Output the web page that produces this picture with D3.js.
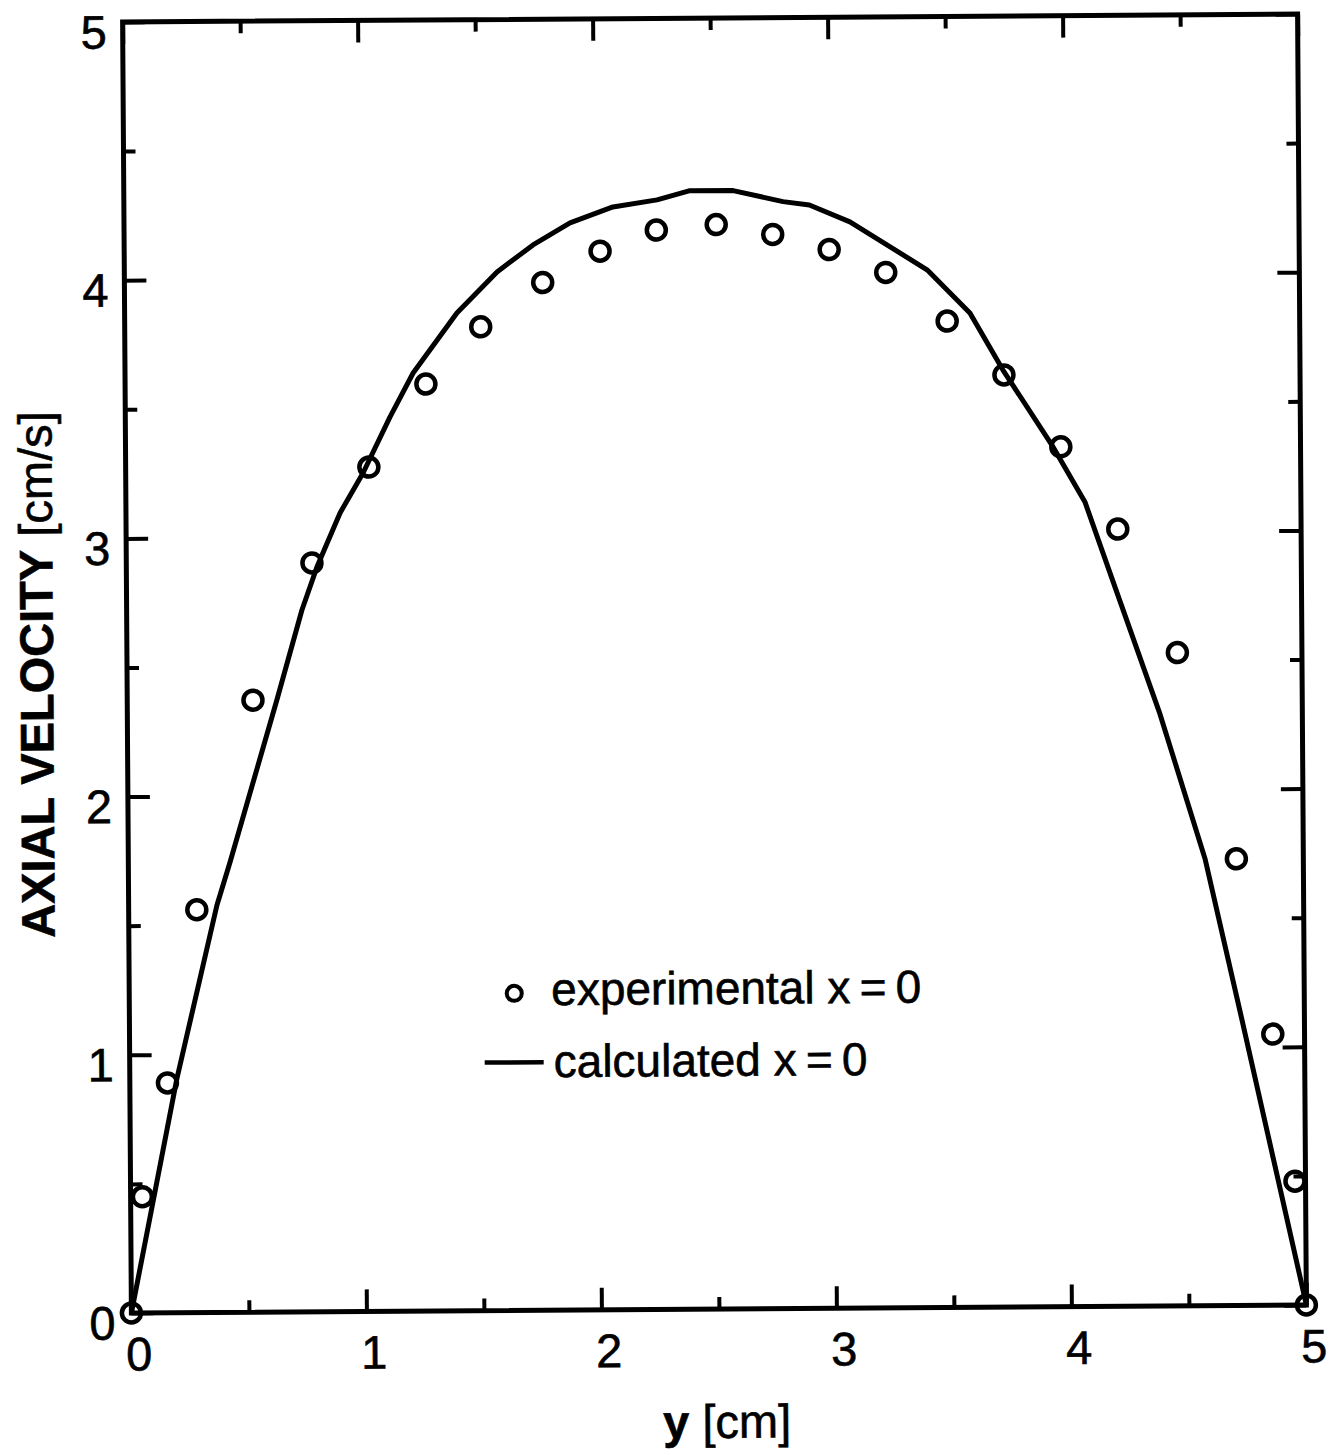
<!DOCTYPE html>
<html>
<head>
<meta charset="utf-8">
<script src="https://cdn.jsdelivr.net/npm/d3@7"></script>
<style>
  body { margin: 0; background: #fff; }
  svg { display: block; }
  text { stroke: #000; stroke-width: 0.6px; }
</style>
</head>
<body>
<div class="content"></div>
<script>
//--> Data
const expY = [0, 0.05, 0.16, 0.29, 0.535, 0.79, 1.035, 1.28, 1.515, 1.78, 2.025, 2.265, 2.52,
  2.76, 3.0, 3.24, 3.5, 3.74, 3.98, 4.22, 4.47, 4.715, 4.865, 4.955, 5.0];
const expU = [0, 0.45, 0.89, 1.56, 2.37, 2.9, 3.27, 3.59, 3.81, 3.98, 4.1, 4.18, 4.2,
  4.16, 4.1, 4.01, 3.82, 3.61, 3.33, 3.01, 2.53, 1.73, 1.05, 0.48, 0];

const calcY = [0, 0.095, 0.2, 0.376, 0.433, 0.637, 0.746, 0.811, 0.911, 1.01, 1.126, 1.226,
  1.414, 1.586, 1.74, 1.898, 2.081, 2.269, 2.409, 2.593, 2.805, 2.917, 3.089, 3.416, 3.597,
  3.736, 3.947, 4.081, 4.215, 4.394, 4.582, 4.726, 5.0];
const calcU = [0, 0.429, 0.905, 1.578, 1.744, 2.371, 2.718, 2.884, 3.093, 3.247, 3.463, 3.633,
  3.864, 4.022, 4.126, 4.21, 4.271, 4.297, 4.332, 4.331, 4.287, 4.273, 4.207, 4.019, 3.851,
  3.629, 3.33, 3.116, 2.763, 2.293, 1.73, 1.14, 0];

const majorTicks = [0, 1, 2, 3, 4, 5];
const minorTicks = [0.5, 1.5, 2.5, 3.5, 4.5];

//--> Constants
const width = 1334;
const height = 1455;
const plot = { left: 127, right: 1302, top: 18, bottom: 1309 };
const font = "'Liberation Sans', Arial, Helvetica, sans-serif";
const fontSize = 47;

const svg = d3
  .select(".content")
  .append("svg")
  .attr("width", width)
  .attr("height", height);

// the scanned original sits slightly tilted
const graph = svg.append("g").attr("transform", "rotate(-0.39, 715, 664)");

const x = d3.scaleLinear().domain([0, 5]).range([plot.left, plot.right]);
const y = d3.scaleLinear().domain([0, 5]).range([plot.bottom, plot.top]);

//--> Axes (ticks point inward on all four sides)
const styleAxis = (g, w) => {
  g.select(".domain").remove();
  g.selectAll(".tick line").attr("stroke", "#000").attr("stroke-width", w);
  g.selectAll("text")
    .attr("fill", "#000")
    .attr("font-family", font)
    .attr("font-size", fontSize);
};

const addAxis = (axisFn, scale, tr, values, size, fmt, pad) => {
  const ax = axisFn(scale).tickValues(values).tickSize(-size).tickPadding(pad || 3)
    .tickFormat(fmt || (() => ""));
  return graph.append("g").attr("transform", tr).call(ax).call(g => styleAxis(g, 4));
};

addAxis(d3.axisBottom, x, `translate(0,${plot.bottom})`, majorTicks, 22, d3.format("d"), 24)
  .selectAll("text").attr("dx", 7);
addAxis(d3.axisBottom, x, `translate(0,${plot.bottom})`, minorTicks, 12);
addAxis(d3.axisTop, x, `translate(0,${plot.top})`, majorTicks, 22);
addAxis(d3.axisTop, x, `translate(0,${plot.top})`, minorTicks, 12);
addAxis(d3.axisLeft, y, `translate(${plot.left},0)`, majorTicks, 22, d3.format("d"), 16)
  .selectAll("text").attr("dy", "0.55em");
addAxis(d3.axisLeft, y, `translate(${plot.left},0)`, minorTicks, 12);
addAxis(d3.axisRight, y, `translate(${plot.right},0)`, majorTicks, 22);
addAxis(d3.axisRight, y, `translate(${plot.right},0)`, minorTicks, 12);

//--> Frame
graph
  .append("rect")
  .attr("x", plot.left)
  .attr("y", plot.top)
  .attr("width", plot.right - plot.left)
  .attr("height", plot.bottom - plot.top)
  .attr("fill", "none")
  .attr("stroke", "#000")
  .attr("stroke-width", 5);

//--> Calculated profile
const line = d3
  .line()
  .x((d, i) => x(calcY[i]))
  .y(d => y(d));

graph
  .append("path")
  .datum(calcU)
  .attr("d", line)
  .attr("fill", "none")
  .attr("stroke", "#000")
  .attr("stroke-width", 5)
  .attr("stroke-linejoin", "round");

//--> Experimental points
graph
  .selectAll("circle.exp")
  .data(expU)
  .enter()
  .append("circle")
  .attr("class", "exp")
  .attr("cx", (d, i) => x(expY[i]))
  .attr("cy", d => y(d))
  .attr("r", 9.5)
  .attr("fill", "none")
  .attr("stroke", "#000")
  .attr("stroke-width", 4.5);

//--> Axis titles
const xTitle = graph
  .append("text")
  .attr("x", 722)
  .attr("y", 1438)
  .attr("text-anchor", "middle")
  .attr("font-family", font)
  .attr("font-size", fontSize);
xTitle.append("tspan").attr("font-weight", "bold").text("y");
xTitle.append("tspan").text(" [cm]");

const yTitle = graph
  .append("text")
  .attr("transform", "translate(53,670) rotate(-90)")
  .attr("text-anchor", "middle")
  .attr("font-family", font)
  .attr("font-size", fontSize);
yTitle.append("tspan").attr("font-weight", "bold").text("AXIAL VELOCITY");
yTitle.append("tspan").text(" [cm/s]");

//--> Legend
const legend = graph.append("g").attr("font-family", font).attr("font-size", 46);

legend
  .append("circle")
  .attr("cx", 512)
  .attr("cy", 992)
  .attr("r", 7.5)
  .attr("fill", "none")
  .attr("stroke", "#000")
  .attr("stroke-width", 4);
legend.append("text").attr("x", 549).attr("y", 1004).text("experimental x\u2009=\u20090");

legend
  .append("line")
  .attr("x1", 482)
  .attr("x2", 541)
  .attr("y1", 1061)
  .attr("y2", 1061)
  .attr("stroke", "#000")
  .attr("stroke-width", 4.5);
legend.append("text").attr("x", 551).attr("y", 1076).text("calculated x\u2009=\u20090");
</script>
</body>
</html>
